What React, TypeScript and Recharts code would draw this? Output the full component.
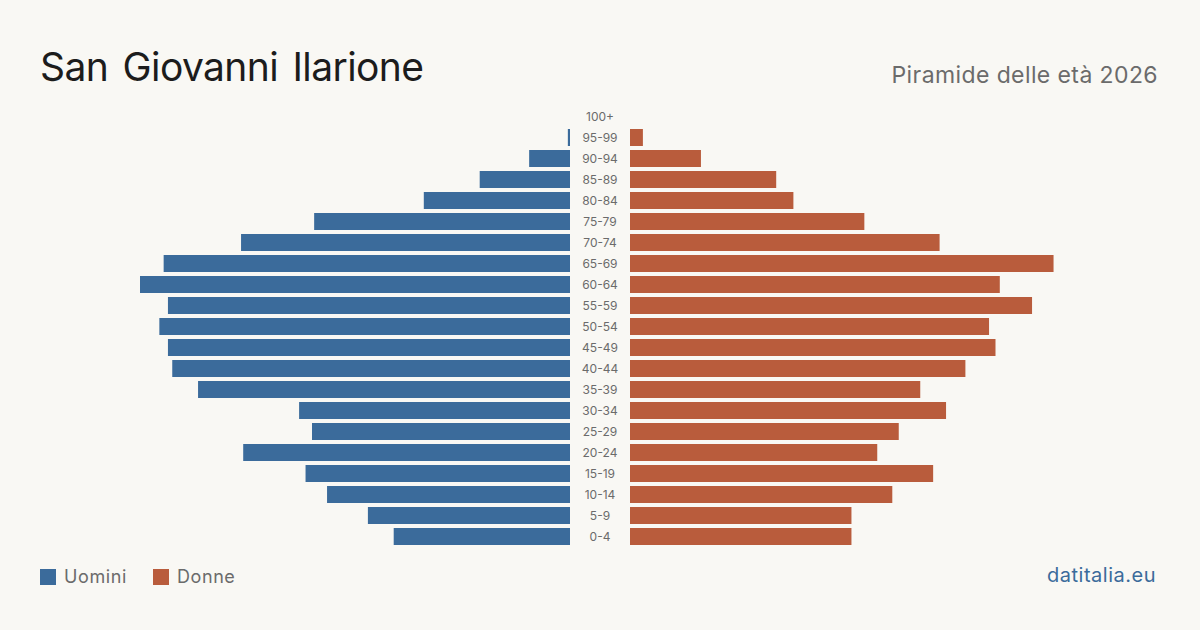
import { BarChart, Bar, XAxis, YAxis } from 'recharts';

const ages = [
  '100+', '95-99', '90-94', '85-89', '80-84', '75-79', '70-74', '65-69', '60-64', '55-59',
  '50-54', '45-49', '40-44', '35-39', '30-34', '25-29', '20-24', '15-19', '10-14', '5-9', '0-4',
];
const uomini = [0, 1, 19, 42, 68, 119, 153, 189, 200, 187, 191, 187, 185, 173, 126, 120, 152, 123, 113, 94, 82];
const donne = [0, 6, 33, 68, 76, 109, 144, 197, 172, 187, 167, 170, 156, 135, 147, 125, 115, 141, 122, 103, 103];

const data = ages.map((age, i) => ({ age, uomini: uomini[i], donne: donne[i] }));

const BLUE = '#3b6b9b';
const ORANGE = '#b95c3c';
const FONT = 'Inter, "Noto Sans", sans-serif';

const CenterTick = (props: any) => {
  const { x, y, payload } = props;
  return (
    <text x={x} y={y} dy={4} textAnchor='middle' fontSize={12} fill='#6b6b6b' fontFamily={FONT}>
      {payload.value}
    </text>
  );
};

export default function App() {
  return (
    <div
      style={{
        position: 'absolute',
        left: 0,
        top: 0,
        width: 1200,
        height: 630,
        background: '#f9f8f4',
        fontFamily: FONT,
        overflow: 'hidden',
      }}
    >
      <div style={{ position: 'absolute', left: 40, top: 43, fontSize: 39, letterSpacing: -0.6, wordSpacing: 4, color: '#1c1c1c' }}>
        San Giovanni Ilarione
      </div>
      <div style={{ position: 'absolute', right: 42, top: 61, fontSize: 23, letterSpacing: 0.4, color: '#6b6b6b' }}>
        Piramide delle età 2026
      </div>

      <div style={{ position: 'absolute', left: 140, top: 106 }}>
        <BarChart width={490} height={441} data={data} layout='vertical' margin={{ top: 0, right: 0, bottom: 0, left: 0 }}>
          <XAxis type='number' domain={[0, 200]} reversed hide />
          <YAxis
            type='category'
            dataKey='age'
            orientation='right'
            width={60}
            axisLine={false}
            tickLine={false}
            tickSize={0}
            tickMargin={30}
            interval={0}
            tick={<CenterTick />}
          />
          <Bar dataKey='uomini' fill={BLUE} barSize={17} isAnimationActive={false} />
        </BarChart>
      </div>

      <div style={{ position: 'absolute', left: 630, top: 106 }}>
        <BarChart width={430} height={441} data={data} layout='vertical' margin={{ top: 0, right: 0, bottom: 0, left: 0 }}>
          <XAxis type='number' domain={[0, 200]} hide />
          <YAxis type='category' dataKey='age' hide width={0} />
          <Bar dataKey='donne' fill={ORANGE} barSize={17} isAnimationActive={false} />
        </BarChart>
      </div>

      <div style={{ position: 'absolute', left: 40, top: 566, display: 'flex', alignItems: 'center', fontSize: 18, letterSpacing: 0.6, color: '#6b6b6b' }}>
        <span style={{ width: 16, height: 16, background: BLUE, display: 'inline-block', marginRight: 8 }} />
        <span style={{ marginRight: 26 }}>Uomini</span>
        <span style={{ width: 16, height: 16, background: ORANGE, display: 'inline-block', marginRight: 8 }} />
        <span>Donne</span>
      </div>
      <div style={{ position: 'absolute', right: 44, top: 563, fontSize: 20, letterSpacing: 0.5, color: '#3b6b9b' }}>
        datitalia.eu
      </div>
    </div>
  );
}
